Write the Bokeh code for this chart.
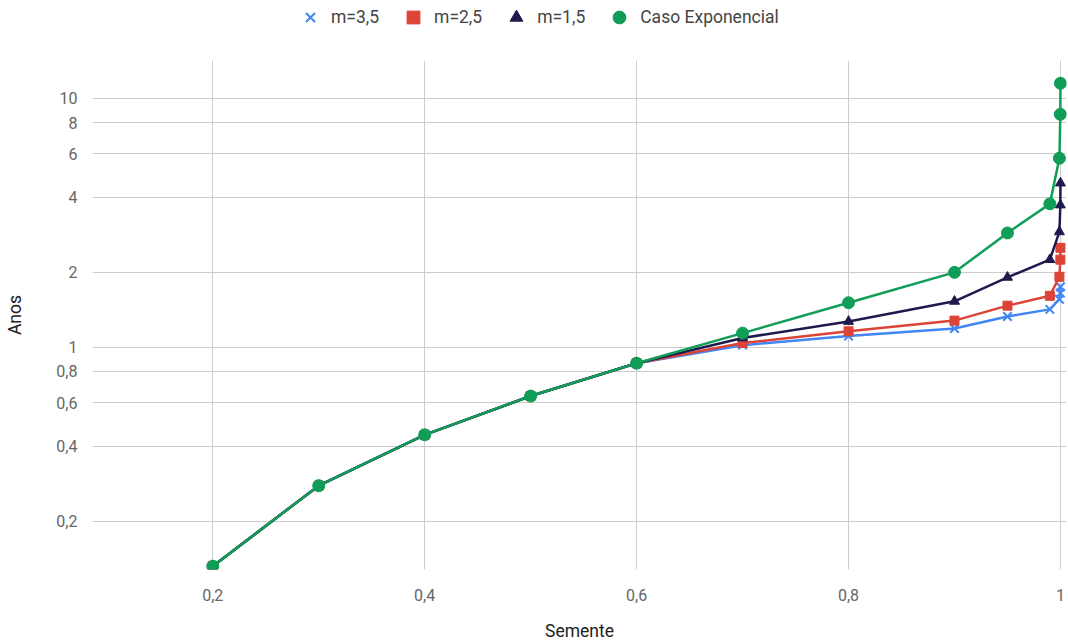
from bokeh.plotting import figure
from bokeh.layouts import column
from bokeh.models import Range1d, FixedTicker, CustomJSTickFormatter, Legend, LegendItem
from bokeh.embed import file_html
from bokeh.resources import INLINE

# ---- data ----
semente = [0.2, 0.3, 0.4, 0.5, 0.6, 0.7, 0.8, 0.9, 0.95, 0.99, 0.999, 0.9999, 0.99999]
comum = [0.132, 0.278, 0.445, 0.637, 0.863]
m35 = comum + [1.02, 1.11, 1.19, 1.33, 1.42, 1.56, 1.65, 1.75]
m25 = comum + [1.04, 1.16, 1.28, 1.47, 1.61, 1.92, 2.25, 2.51]
m15 = comum + [1.09, 1.27, 1.53, 1.91, 2.25, 2.91, 3.73, 4.57]
exponencial = comum + [1.14, 1.51, 2.00, 2.88, 3.77, 5.75, 8.63, 11.5]

x_ticks = [0.2, 0.4, 0.6, 0.8, 1.0]
y_ticks = [0.2, 0.4, 0.6, 0.8, 1, 2, 4, 6, 8, 10]

names = ["m=3,5", "m=2,5", "m=1,5", "Caso Exponencial"]
colors = ["#4285F4", "#DB4437", "#1E1A4D", "#0F9D58"]
markers = ["x", "square", "triangle", "circle"]
sizes = [12, 9, 10, 12]
series = [m35, m25, m15, exponencial]

FONT = "Roboto"

p = figure(width=1068, height=603, y_axis_type="log",
           x_range=Range1d(0.0865, 1.0057), y_range=Range1d(0.128, 14.2),
           output_backend="svg", toolbar_location=None,
           min_border_left=92, min_border_right=2, min_border_top=20, min_border_bottom=72)
p.outline_line_color = None
p.background_fill_color = "white"
p.border_fill_color = "white"

# legend strip above the chart (its renderers lie outside its own ranges)
lg = figure(width=1068, height=40, x_range=Range1d(5, 6), y_range=Range1d(5, 6),
            output_backend="svg", toolbar_location=None,
            min_border_left=0, min_border_right=0, min_border_top=0, min_border_bottom=0)
lg.axis.visible = False
lg.grid.visible = False
lg.outline_line_color = None
lg.border_fill_color = "white"
lg.background_fill_color = "white"

items = []
for name, c, mk, sz, ys in zip(names, colors, markers, sizes, series):
    p.line(semente, ys, line_color=c, line_width=2.5)
    if mk == "x":
        p.scatter(semente, ys, marker=mk, size=sz, line_color=c, line_width=2)
        r = lg.scatter(semente, ys, marker=mk, line_color=c, line_width=2)
    else:
        p.scatter(semente, ys, marker=mk, size=sz, fill_color=c, line_color=c)
        r = lg.scatter(semente, ys, marker=mk, fill_color=c, line_color=c)
    items.append(LegendItem(label=name, renderers=[r]))

# axes
for ax in (p.xaxis[0], p.yaxis[0]):
    ax.axis_line_color = None
    ax.major_tick_line_color = None
    ax.minor_tick_line_color = None
    ax.major_label_text_font = FONT
    ax.major_label_text_font_size = "16px"
    ax.major_label_text_color = "#666666"
    ax.axis_label_text_font = FONT
    ax.axis_label_text_font_size = "17.5px"
    ax.axis_label_text_font_style = "normal"
    ax.axis_label_text_color = "#222222"
    ax.formatter = CustomJSTickFormatter(code="return String(tick).replace('.', ',');")

p.xaxis.ticker = FixedTicker(ticks=x_ticks)
p.yaxis.ticker = FixedTicker(ticks=y_ticks, minor_ticks=[])
p.xaxis.axis_label = "Semente"
p.yaxis.axis_label = "Anos"
p.xaxis.major_label_standoff = 13
p.xaxis.axis_label_standoff = 17
p.yaxis.major_label_standoff = 9
p.yaxis.axis_label_standoff = 28

p.xgrid.ticker = FixedTicker(ticks=x_ticks)
p.grid.grid_line_color = "#cccccc"
p.grid.grid_line_width = 1

legend = Legend(items=items, orientation="horizontal", location=(202, 7),
                glyph_width=32, glyph_height=32, label_standoff=5, spacing=18,
                padding=0, margin=0, border_line_color=None, background_fill_alpha=0,
                label_text_font=FONT, label_text_font_size="17.5px", label_text_color="#444444")
lg.add_layout(legend, "center")

layout = column(lg, p, spacing=0)
open("out.html", "w").write(file_html(layout, INLINE))
